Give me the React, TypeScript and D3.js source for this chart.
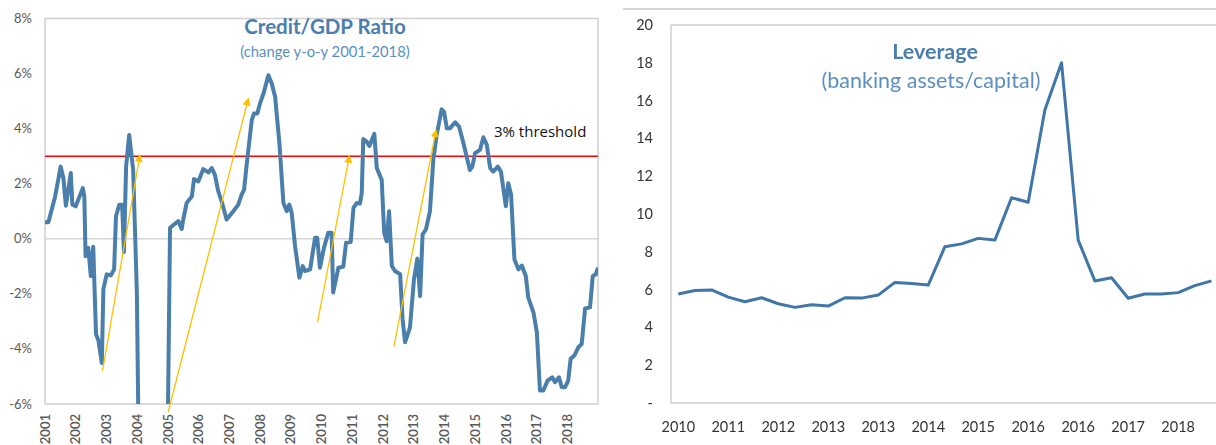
import React from 'react';
import * as d3 from 'd3';

// Credit/GDP ratio, change y-o-y (%), by decimal year
const creditDates = [
  2001.0, 2001.11, 2001.33, 2001.51, 2001.6, 2001.68, 2001.84, 2001.89, 2002.0, 2002.23,
  2002.28, 2002.32, 2002.41, 2002.49, 2002.57, 2002.66, 2002.74, 2002.85, 2002.9, 2003.01,
  2003.14, 2003.25, 2003.31, 2003.42, 2003.51, 2003.57, 2003.64, 2003.74, 2003.87, 2003.99,
  2004.07, 2004.97, 2005.07, 2005.34, 2005.45, 2005.5, 2005.61, 2005.78, 2005.85, 2005.99,
  2006.15, 2006.32, 2006.43, 2006.53, 2006.64, 2006.75, 2006.91, 2007.13, 2007.29, 2007.4,
  2007.48, 2007.57, 2007.73, 2007.8, 2007.91, 2008.0, 2008.13, 2008.27, 2008.38, 2008.49,
  2008.63, 2008.76, 2008.87, 2008.95, 2009.03, 2009.14, 2009.28, 2009.39, 2009.46, 2009.63,
  2009.79, 2009.86, 2009.95, 2010.08, 2010.22, 2010.33, 2010.38, 2010.55, 2010.71, 2010.8,
  2010.95, 2011.04, 2011.15, 2011.25, 2011.31, 2011.36, 2011.47, 2011.56, 2011.72, 2011.8,
  2011.96, 2012.04, 2012.12, 2012.2, 2012.29, 2012.39, 2012.56, 2012.64, 2012.72, 2012.88,
  2013.01, 2013.12, 2013.21, 2013.29, 2013.4, 2013.53, 2013.64, 2013.75, 2013.91, 2013.99,
  2014.08, 2014.18, 2014.35, 2014.48, 2014.62, 2014.83, 2014.91, 2015.0, 2015.16, 2015.27,
  2015.38, 2015.49, 2015.59, 2015.74, 2015.84, 2016.0, 2016.08, 2016.17, 2016.28, 2016.41,
  2016.52, 2016.65, 2016.73, 2016.9, 2017.01, 2017.11, 2017.22, 2017.36, 2017.51, 2017.6,
  2017.73, 2017.82, 2017.93, 2018.03, 2018.11, 2018.23, 2018.36, 2018.47, 2018.58, 2018.74,
  2018.83, 2018.93, 2019.0,
];
const creditValues = [
  0.6, 0.6, 1.54, 2.62, 2.2, 1.2, 2.39, 1.24, 1.18, 1.84,
  1.54, -0.63, -0.33, -1.35, -0.29, -3.46, -3.7, -4.51, -1.83, -1.29,
  -1.33, -1.11, 0.82, 1.24, 1.24, -0.48, 2.62, 3.77, 2.5, -1.95,
  -9.5, -9.5, 0.4, 0.64, 0.36, 0.7, 1.3, 1.54, 2.17, 2.08,
  2.53, 2.41, 2.57, 2.32, 1.72, 1.36, 0.7, 1.0, 1.24, 1.6,
  1.78, 2.75, 4.31, 4.55, 4.55, 4.92, 5.34, 5.94, 5.64, 5.16,
  3.47, 1.3, 1.0, 1.24, 0.94, -0.27, -1.41, -0.99, -1.17, -1.11,
  0.04, 0.04, -1.05, -0.33, 0.22, 0.22, -1.95, -1.05, -1.01, -0.14,
  -0.12, 1.12, 1.3, 1.28, 1.66, 3.62, 3.53, 3.37, 3.81, 2.57,
  2.14, 0.22, -0.09, 1.0, -0.99, -1.17, -1.29, -2.92, -3.76, -3.22,
  -1.47, -0.72, -2.08, 0.16, 0.34, 1.0, 2.87, 3.77, 4.7, 4.61,
  4.01, 4.01, 4.23, 4.07, 3.47, 2.5, 2.62, 3.11, 3.23, 3.69,
  3.41, 2.57, 2.44, 2.62, 2.44, 1.18, 2.02, 1.6, -0.75, -1.11,
  -0.97, -1.35, -2.13, -2.68, -3.4, -5.51, -5.51, -5.15, -5.03, -5.21,
  -5.03, -5.39, -5.39, -5.15, -4.36, -4.24, -3.94, -3.82, -2.53, -2.49,
  -1.35, -1.29, -1.05,
];
const creditTicks = [-6, -4, -2, 0, 2, 4, 6, 8];
const creditYears = d3.range(2001, 2019);
const thresholdValue = 3;

// Build-up arrows: [year, value] from trough to target
const arrowFrom = [
  [2002.87, -4.81],
  [2005.01, -6.29],
  [2009.87, -3.04],
  [2012.36, -3.9],
];
const arrowTo = [
  [2004.09, 3.05],
  [2007.62, 5.1],
  [2010.91, 3.02],
  [2013.73, 3.95],
];

// Leverage (banking assets / capital)
const leverageValues = [
  5.77, 5.95, 5.98, 5.6, 5.36, 5.57, 5.25, 5.06, 5.2, 5.13,
  5.57, 5.55, 5.71, 6.38, 6.32, 6.24, 8.27, 8.42, 8.71, 8.62,
  10.86, 10.62, 15.5, 18.0, 8.62, 6.46, 6.63, 5.54, 5.77, 5.77,
  5.84, 6.21, 6.46,
];
const leverageLabels = ['2010', '2011', '2012', '2013', '2013', '2014', '2015', '2016', '2016', '2017', '2018'];
const leverageTicks = [0, 2, 4, 6, 8, 10, 12, 14, 16, 18, 20];

const LINE_BLUE = '#4a7fac';
const TITLE_BLUE = '#4a7eae';
const SUB_BLUE = '#5b8fc0';
const ARROW = '#ffc000';

function CreditPanel() {
  const left = 45, right = 598, top = 18.5, bottom = 404;
  const x = d3.scaleLinear().domain([2001, 2019]).range([left, right]);
  const y = d3.scaleLinear().domain([-6, 8]).range([bottom, top]);
  const pts: [number, number][] = creditDates.map((d, i) => [d, creditValues[i]]);
  const line = d3.line<[number, number]>().x(d => x(d[0])).y(d => y(d[1]));
  return (
    <g fontFamily="Lato, 'Open Sans', sans-serif">
      <defs>
        <clipPath id="creditClip">
          <rect x={left} y={top - 2} width={right - left} height={bottom - top + 2} />
        </clipPath>
        <marker id="arrowHead" viewBox="0 0 10 10" refX="9" refY="5" markerWidth="9" markerHeight="8"
          markerUnits="userSpaceOnUse" orient="auto">
          <path d="M0,0 L10,5 L0,10 z" fill={ARROW} />
        </marker>
      </defs>
      <rect x={left} y={top} width={right - left} height={bottom - top} fill="none" stroke="#d0d0d0" strokeWidth={1.5} />
      <line x1={left} x2={right} y1={y(0)} y2={y(0)} stroke="#d6d6d6" strokeWidth={1.5} />
      {creditTicks.map(t => (
        <text key={t} x={32} y={y(t)} dy="0.35em" textAnchor="end" fontSize={13} fill="#595959">
          {`${t}%`}
        </text>
      ))}
      {creditYears.map(yr => (
        <text key={yr} transform={`translate(${x(yr)},${bottom + 10}) rotate(-90)`} dy="0.36em"
          textAnchor="end" fontSize={13} fontWeight={600} fill="#595959">
          {yr}
        </text>
      ))}
      <text x={325} y={34} textAnchor="middle" fontSize={20.5} fontWeight={700} fill={TITLE_BLUE}>Credit/GDP Ratio</text>
      <text x={325} y={57} textAnchor="middle" fontSize={14.8} fill={SUB_BLUE}>(change y-o-y 2001-2018)</text>
      <line x1={left} x2={right} y1={y(thresholdValue)} y2={y(thresholdValue)} stroke="#ff0000" strokeWidth={1.5} />
      <text x={494} y={137} fontSize={15} fill="#111" fontFamily="'Open Sans', sans-serif">3% threshold</text>
      <path d={line(pts) ?? ''} fill="none" stroke={LINE_BLUE} strokeWidth={4} strokeLinejoin="round"
        clipPath="url(#creditClip)" />
      {arrowFrom.map((a, i) => (
        <line key={i} x1={x(a[0])} y1={y(a[1])} x2={x(arrowTo[i][0])} y2={y(arrowTo[i][1])}
          stroke={ARROW} strokeWidth={1.3} markerEnd="url(#arrowHead)" />
      ))}
    </g>
  );
}

function LeveragePanel() {
  const left = 671, right = 1216, top = 25, bottom = 403;
  const x = d3.scalePoint<number>().domain(d3.range(leverageValues.length)).range([678.3, 1211.5]);
  const y = d3.scaleLinear().domain([0, 20]).range([bottom, top]);
  const line = d3.line<number>().x((_, i) => x(i) ?? 0).y(d => y(d));
  return (
    <g fontFamily="Lato, 'Open Sans', sans-serif" filter="url(#soft)">
      <defs>
        <filter id="soft" x="-5%" y="-5%" width="110%" height="110%">
          <feGaussianBlur stdDeviation="0.45" />
        </filter>
      </defs>
      <line x1={623} x2={1216} y1={9} y2={9} stroke="#c8c8c8" strokeWidth={1.5} />
      <line x1={left} x2={right} y1={top} y2={top} stroke="#cfcfcf" strokeWidth={1.5} />
      <line x1={left} x2={left} y1={top} y2={bottom} stroke="#cfcfcf" strokeWidth={1.5} />
      <line x1={left} x2={right} y1={bottom} y2={bottom} stroke="#cfcfcf" strokeWidth={1.5} />
      {leverageTicks.map(t => (
        <text key={t} x={653} y={y(t)} dy="0.35em" textAnchor="end" fontSize={14.5} fill="#333">
          {t === 0 ? '-' : t}
        </text>
      ))}
      {leverageLabels.map((lab, i) => (
        <text key={i} x={x(i * 3)} y={432} textAnchor="middle" fontSize={14.5} fill="#333">{lab}</text>
      ))}
      <text x={935} y={59} textAnchor="middle" fontSize={21.5} fontWeight={700} fill={TITLE_BLUE}>Leverage</text>
      <text x={931} y={88} textAnchor="middle" fontSize={21.5} fill={SUB_BLUE}>(banking assets/capital)</text>
      <path d={line(leverageValues) ?? ''} fill="none" stroke="#3f76a8" strokeWidth={3} strokeLinejoin="round" />
    </g>
  );
}

export default function App() {
  return (
    <svg width={1216} height={445} style={{ position: 'absolute', left: 0, top: 0, background: '#fff' }}>
      <rect width={1216} height={445} fill="#fff" />
      <CreditPanel />
      <LeveragePanel />
    </svg>
  );
}
